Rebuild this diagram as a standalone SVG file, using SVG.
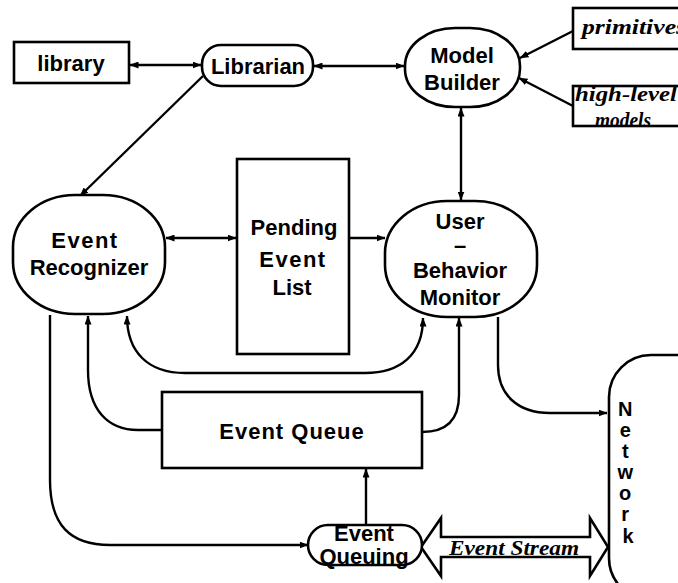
<svg xmlns="http://www.w3.org/2000/svg" width="678" height="583" viewBox="0 0 678 583">
  <style>
    .node { fill: #fff; stroke: #000; stroke-width: 2.6; }
    .lbl { font-family: "Liberation Sans", Arial, sans-serif; font-weight: bold; font-size: 22px; fill: #000; text-anchor: middle; }
    .net { font-family: "Liberation Sans", Arial, sans-serif; font-weight: bold; font-size: 20px; fill: #000; text-anchor: middle; }
    .ital { font-family: "Liberation Serif", "Times New Roman", serif; font-weight: bold; font-style: italic; font-size: 20px; fill: #000; }
    .conn { fill: none; stroke: #000; stroke-width: 2.4; }
  </style>
  <defs>
    <marker id="ah" viewBox="0 0 9 7" refX="8.5" refY="3.5" markerWidth="9" markerHeight="7" markerUnits="userSpaceOnUse" orient="auto-start-reverse">
      <path d="M0,0 L9,3.5 L0,7 z" fill="#000"/>
    </marker>
  </defs>
  <rect width="678" height="583" fill="#fff"/>

  <!-- connectors -->
  <g id="connectors" class="conn">
    <path d="M130,65 H201" marker-start="url(#ah)" marker-end="url(#ah)"/>
    <path d="M314,66 H404" marker-start="url(#ah)" marker-end="url(#ah)"/>
    <path d="M203,76 L80,196" marker-end="url(#ah)"/>
    <path d="M573,31 L520,58" marker-end="url(#ah)"/>
    <path d="M573,106 L519,78" marker-end="url(#ah)"/>
    <path d="M461,108 V200" marker-start="url(#ah)" marker-end="url(#ah)"/>
    <path d="M166,238 H236" marker-start="url(#ah)" marker-end="url(#ah)"/>
    <path d="M349,238 H385" marker-end="url(#ah)"/>
    <path d="M50,315 V480 C50,525 70,545 110,545 H308" marker-end="url(#ah)"/>
    <path d="M162,430 H138 C108,430 88,410 88,370 V316" marker-end="url(#ah)"/>
    <path d="M127,316 C127,352 148,373 185,373 H365 C400,373 423,355 423,318" marker-start="url(#ah)" marker-end="url(#ah)"/>
    <path d="M422,432 C448,432 459,418 459,395 V318" marker-end="url(#ah)"/>
    <path d="M498,317 V365 C498,395 518,413 550,413 H607" marker-end="url(#ah)"/>
    <path d="M366,525 V469" marker-end="url(#ah)"/>
  </g>

  <g id="library">
    <rect class="node" x="14" y="42" width="115" height="41"/>
    <text class="lbl" x="71" y="71">library</text>
  </g>

  <g id="librarian">
    <rect class="node" x="202" y="45" width="111" height="41" rx="19" ry="19"/>
    <text class="lbl" x="258" y="74">Librarian</text>
  </g>

  <g id="model-builder">
    <rect class="node" x="405" y="28" width="115" height="79" rx="50" ry="38"/>
    <text class="lbl" x="462" y="63">Model</text>
    <text class="lbl" x="462" y="90">Builder</text>
  </g>

  <g id="primitives">
    <rect class="node" x="573" y="8" width="120" height="41"/>
    <text class="ital" x="582" y="34" textLength="104" lengthAdjust="spacingAndGlyphs">primitives</text>
  </g>

  <g id="high-level-models">
    <rect class="node" x="573" y="86" width="120" height="40"/>
    <text class="ital" x="575" y="101" textLength="102" lengthAdjust="spacingAndGlyphs">high-level</text>
    <text class="ital" x="595" y="127" textLength="56" lengthAdjust="spacingAndGlyphs">models</text>
  </g>

  <g id="event-recognizer">
    <rect class="node" x="13" y="195" width="152" height="119" rx="62" ry="52"/>
    <text class="lbl" x="85" y="248" letter-spacing="1.5">Event</text>
    <text class="lbl" x="89" y="275">Recognizer</text>
  </g>

  <g id="pending-event-list">
    <rect class="node" x="237" y="159" width="112" height="195"/>
    <text class="lbl" x="294" y="235">Pending</text>
    <text class="lbl" x="293" y="267" letter-spacing="1.5">Event</text>
    <text class="lbl" x="292" y="295">List</text>
  </g>

  <g id="user-behavior-monitor">
    <rect class="node" x="385" y="201" width="152" height="116" rx="62" ry="52"/>
    <text class="lbl" x="460" y="229">User</text>
    <text class="lbl" x="460" y="253" font-size="14">–</text>
    <text class="lbl" x="460" y="278">Behavior</text>
    <text class="lbl" x="460" y="305">Monitor</text>
  </g>

  <g id="event-queue">
    <rect class="node" x="162" y="392" width="260" height="76"/>
    <text class="lbl" x="292" y="439" letter-spacing="1">Event Queue</text>
  </g>

  <g id="network">
    <rect class="node" x="609" y="355" width="110" height="245" rx="42" ry="42"/>
    <!-- letters stacked vertically -->
    <text class="net">
      <tspan x="628" y="416">N</tspan>
      <tspan x="628" y="437">e</tspan>
      <tspan x="628" y="458">t</tspan>
      <tspan x="628" y="479">w</tspan>
      <tspan x="628" y="500">o</tspan>
      <tspan x="628" y="521">r</tspan>
      <tspan x="628" y="543">k</tspan>
    </text>
  </g>

  <g id="event-stream">
    <path class="node" d="M421,547 L441,518 V537 H590 V518 L608,547 L590,576 V557 H441 V576 Z"/>
    <text class="ital" x="449" y="555" textLength="130" lengthAdjust="spacingAndGlyphs">Event Stream</text>
  </g>

  <g id="event-queuing">
    <rect class="node" x="308" y="525" width="114" height="40" rx="20" ry="20"/>
    <text class="lbl" x="364" y="541" font-size="20">Event</text>
    <text class="lbl" x="364" y="564" font-size="20">Queuing</text>
  </g>
</svg>
